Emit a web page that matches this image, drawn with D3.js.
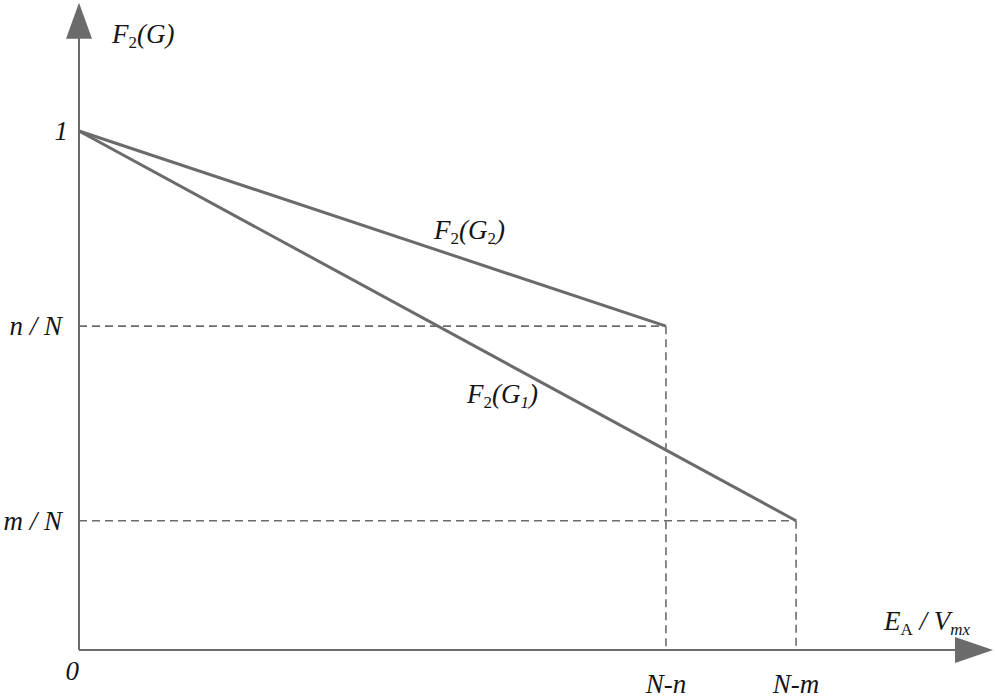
<!DOCTYPE html>
<html><head><meta charset="utf-8">
<script src="https://cdn.jsdelivr.net/npm/d3@7"></script>
<style>body{margin:0;background:#fff}svg{display:block}</style>
</head><body><svg id="c" width="995" height="698"></svg>
<script>
// data (abstract units)
const yTickLabels = ["0", "m / N", "n / N", "1"];
const yTickValues = [0, 0.249, 0.624, 1];
const xTickLabels = ["N-n", "N-m"];
const xTickValues = [6.45, 7.88];
const seriesG2 = [[0, 1], [6.45, 0.624]];
const seriesG1 = [[0, 1], [7.88, 0.249]];
const axisMaxX = 10.0, axisMaxY = 1.247;

const svg = d3.select("#c");
const x = d3.scaleLinear().domain([0, 10]).range([79, 989]);
const y = d3.scaleLinear().domain([0, 1]).range([650, 131]);
const grey = "#6b6b6b";

// dashed guides
const dash = svg.append("g").attr("stroke", grey).attr("stroke-width", 1.6).attr("stroke-dasharray", "8,5").attr("fill", "none");
[seriesG2[1], seriesG1[1]].forEach(p => {
  dash.append("line").attr("x1", x(0)).attr("x2", x(p[0])).attr("y1", y(p[1])).attr("y2", y(p[1]));
  dash.append("line").attr("x1", x(p[0])).attr("x2", x(p[0])).attr("y1", y(p[1])).attr("y2", y(0));
});

// axes
svg.append("line").attr("x1", x(0)).attr("x2", x(0)).attr("y1", y(0)).attr("y2", y(axisMaxY) + 30).attr("stroke", grey).attr("stroke-width", 2);
svg.append("line").attr("x1", x(0)).attr("x2", x(axisMaxX) - 30).attr("y1", y(0)).attr("y2", y(0)).attr("stroke", grey).attr("stroke-width", 2);
const ty = y(axisMaxY);
svg.append("path").attr("d", `M${x(0)},${ty} L${x(0)-13},${ty+36} L${x(0)+13},${ty+36} Z`).attr("fill", grey);
const tx = x(axisMaxX) + 4;
svg.append("path").attr("d", `M${tx},${y(0)} L${tx-38},${y(0)-13} L${tx-38},${y(0)+13} Z`).attr("fill", grey);

// series lines
const line = d3.line().x(d => x(d[0])).y(d => y(d[1]));
[seriesG2, seriesG1].forEach(s => svg.append("path").attr("d", line(s)).attr("fill", "none").attr("stroke", grey).attr("stroke-width", 3));

function txt(xp, yp, anchor) {
  return svg.append("text").attr("x", xp).attr("y", yp).attr("text-anchor", anchor || "start")
    .style("font-family", '"Liberation Serif"').style("font-style", "italic").style("font-size", "27px").attr("fill", "#151515");
}
// y tick labels
yTickValues.forEach((v, i) => {
  txt(v === 0 ? 79 : (v === 1 ? 68 : 62), v === 0 ? 680 : y(v) + 9, "end").text(yTickLabels[i]);
});
// x tick labels
xTickValues.forEach((v, i) => txt(x(v), 693, "middle").text(xTickLabels[i]));

function sublabel(xp, yp, parts) {
  const t = txt(xp, yp);
  parts.forEach(p => {
    const ts = t.append("tspan").text(p[0]);
    if (p[1] === "sub") ts.style("font-size", "17px").attr("dy", 5).style("font-style", p[2] || "italic");
    else if (p[1] === "up") ts.attr("dy", -5);
  });
  return t;
}
sublabel(112, 43, [["F"], ["2", "sub", "normal"], ["(G)", "up"]]);
sublabel(434, 239, [["F"], ["2", "sub", "normal"], ["(G", "up"], ["2", "sub", "normal"], [")", "up"]]);
sublabel(467, 403, [["F"], ["2", "sub", "normal"], ["(G", "up"], ["1", "sub"], [")", "up"]]);
sublabel(884, 630, [["E"], ["A", "sub", "normal"], [" / V", "up"], ["mx", "sub"]]);
</script></body></html>
